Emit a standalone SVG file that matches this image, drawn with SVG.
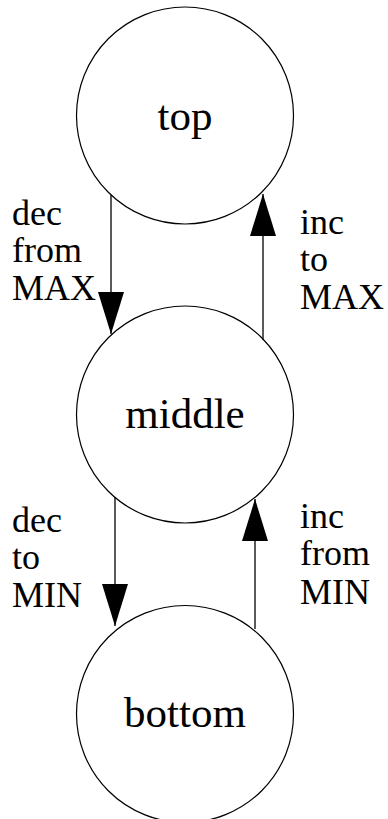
<svg xmlns="http://www.w3.org/2000/svg" width="388" height="819" viewBox="0 0 388 819">
<style>
.node{fill:#fff;stroke:#000;stroke-width:1.2}
.name{font-family:"Liberation Serif",serif;font-size:43px;text-anchor:middle;fill:#000}
.lbl{font-family:"Liberation Serif",serif;font-size:36px;fill:#000}
.edge{stroke:#000;stroke-width:1.3;fill:none}
</style>
<defs>
<marker id="ah" markerUnits="userSpaceOnUse" markerWidth="42" markerHeight="26" refX="42" refY="13" orient="auto" viewBox="0 0 42 26">
<path d="M0,0 L42,13 L0,26 Z" fill="#000"/>
</marker>
</defs>
<rect width="388" height="819" fill="#fff"/>
<g id="top"><circle class="node" cx="185" cy="115.5" r="108.5"/><text class="name" x="185" y="130">top</text></g>
<g id="middle"><circle class="node" cx="185" cy="414.5" r="108.5"/><text class="name" x="185" y="428">middle</text></g>
<g id="bottom"><circle class="node" cx="185" cy="714" r="108.5"/><text class="name" x="185" y="727">bottom</text></g>
<g id="connectors">
<line class="edge" x1="111" y1="195" x2="111" y2="334" marker-end="url(#ah)"/>
<line class="edge" x1="263" y1="340" x2="263" y2="194" marker-end="url(#ah)"/>
<line class="edge" x1="115" y1="497" x2="115" y2="626" marker-end="url(#ah)"/>
<line class="edge" x1="255" y1="629" x2="255" y2="499" marker-end="url(#ah)"/>
</g>
<g id="labels">
<text class="lbl" x="12" y="225">dec</text><text class="lbl" x="12" y="262">from</text><text class="lbl" x="12" y="300">MAX</text>
<text class="lbl" x="300" y="234">inc</text><text class="lbl" x="300" y="271">to</text><text class="lbl" x="300" y="309">MAX</text>
<text class="lbl" x="12" y="532">dec</text><text class="lbl" x="12" y="569">to</text><text class="lbl" x="12" y="607">MIN</text>
<text class="lbl" x="300" y="528">inc</text><text class="lbl" x="300" y="565">from</text><text class="lbl" x="300" y="604">MIN</text>
</g>
</svg>
